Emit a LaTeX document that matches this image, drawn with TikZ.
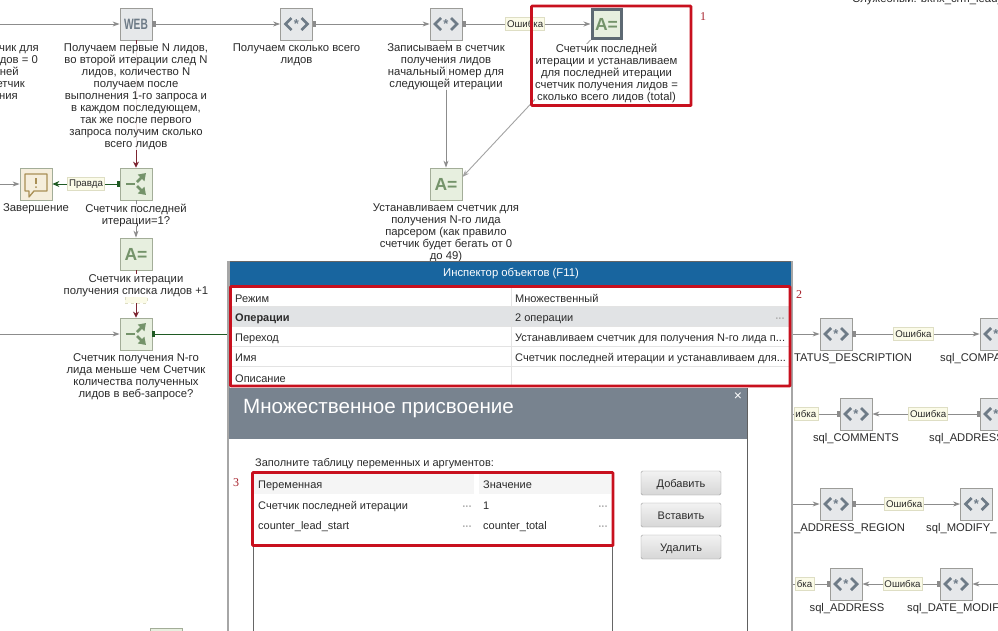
\documentclass[tikz,border=0pt]{standalone}
\usepackage{graphicx}
\usepackage{fontspec}
\setmainfont{Liberation Sans}
\newfontfamily\numfont{Liberation Serif}
\usetikzlibrary{arrows.meta,calc}
\definecolor{txt}{HTML}{2B2B2B}
\definecolor{gfill}{HTML}{E6E8EA}
\definecolor{gedge}{HTML}{9C9C98}
\definecolor{gicon}{HTML}{6E7B87}
\definecolor{afill}{HTML}{E7EFDF}
\definecolor{aedge}{HTML}{A3AD98}
\definecolor{aicon}{HTML}{74936A}
\definecolor{mfill}{HTML}{F5EEDC}
\definecolor{micon}{HTML}{A98F55}
\definecolor{flow}{HTML}{8C8C8C}
\definecolor{dkgreen}{HTML}{1F5A23}
\definecolor{dkred}{HTML}{7C2430}
\definecolor{hilite}{HTML}{C8101E}
\definecolor{numred}{HTML}{A8242E}
\definecolor{blueh}{HTML}{18659F}
\definecolor{dlg}{HTML}{78838F}
\definecolor{rowg}{HTML}{E1E3E5}
\definecolor{tagf}{HTML}{FBFBE8}
\definecolor{tage}{HTML}{DEDEC4}
\newcommand{\fs}{\fontsize{11.3}{12}\selectfont}
\newcommand{\fc}{\fontsize{11}{12}\selectfont}
\newcommand{\fq}{\fontsize{11.2}{12}\selectfont}
\newcommand{\starsym}{\raisebox{-5pt}{*}}
\tikzset{
  sq/.style={draw=gedge,line width=.8pt,minimum size=32pt,inner sep=0pt,fill=gfill},
  sqsql/.style={sq,text=gicon,font=\fontsize{13}{13}\selectfont\bfseries},
  sqa/.style={sq,fill=afill,draw=aedge,text=aicon,font=\fontsize{17.5}{18}\selectfont\bfseries},
  sqb/.style={sq,fill=afill,draw=aedge},
  sqm/.style={sq,fill=mfill,draw=aedge},
  lab/.style={anchor=north,align=center,inner sep=0pt,font=\fs,text=txt,fill=white,fill opacity=.86,text opacity=1},
  plain/.style={inner sep=0pt,font=\fs,text=txt,text height=8pt,text depth=2pt,yshift=-1pt},
  sqllab/.style={plain,font=\fq},
  tag/.style={draw=tage,fill=tagf,inner sep=1.5pt,font=\fontsize{9.7}{10}\selectfont,text=txt,minimum height=13pt},
  conn/.style={draw=flow,line width=.9pt,-{Stealth[length=7pt,width=5pt]}},
  srcconn/.style={draw=flow,line width=.9pt,{Square[length=3pt,width=6pt]}-{Stealth[length=7pt,width=5pt]}},
  srcplain/.style={draw=flow,line width=.9pt,{Square[length=3pt,width=6pt]}-},
  hl/.style={draw=hilite,line width=2.6pt,rounded corners=.6pt},
  num/.style={inner sep=0pt,text=numred,font=\numfont\fontsize{12}{12}\selectfont},
  cell/.style={inner sep=0pt,anchor=west,font=\fc,text=txt,text height=8pt,text depth=2pt,yshift=-1pt},
  btn/.style={draw=gray!75,rounded corners=1.5pt,minimum width=80pt,minimum height=24pt,inner sep=0pt,top color=gray!10,bottom color=gray!32,font=\fc,text=txt,text height=8pt,text depth=0pt},
  dots/.style={inner sep=0pt,text=gray!60,font=\fontsize{11}{11}\selectfont\bfseries}
}
\newcommand{\branchicon}[1]{%
  \draw[aicon,line width=2.6pt] ($(#1)+(-10,0)$) -- ($(#1)+(-1,0)$);
  \draw[aicon,line width=2.8pt,-{Triangle[length=7pt,width=9pt]}] ($(#1)+(1,-2)$) -- ($(#1)+(10,-11)$);
  \draw[aicon,line width=2.8pt,-{Triangle[length=7pt,width=9pt]}] ($(#1)+(1,2)$) -- ($(#1)+(10,11)$);
}
\newcommand{\sqlicon}[1]{%
  \draw[gicon,line width=2.8pt,line join=miter] ($(#1)+(-5,-6)$) -- ($(#1)+(-11,0)$) -- ($(#1)+(-5,6)$);
  \draw[gicon,line width=2.8pt,line join=miter] ($(#1)+(5,-6)$) -- ($(#1)+(11,0)$) -- ($(#1)+(5,6)$);
}
\begin{document}
\begin{tikzpicture}[x=1pt,y=-1pt]
\useasboundingbox (0,0) rectangle (998,630);
\clip (0,0) rectangle (998,630);
\fill[white] (0,0) rectangle (998,630);

% ---- shapes
\node[sq,text=gicon,font=\fontsize{15}{15}\selectfont\bfseries] (web) at (136,24) {\scalebox{.68}[1]{WEB}};
\node[sqsql] (get) at (296.5,24) {\starsym};
\node[sqsql] (write) at (446,24) {\starsym};
\node[sqa,draw=gicon!85!black,line width=3pt,minimum size=29pt] (sel) at (606.5,24) {A=};
\node[sqa] (asg) at (446,184) {A=};
\node[sqm] (msg) at (36,184) {};
\node[sqb] (b1) at (136,184) {};
\node[sqa] (inc) at (136,254) {A=};
\node[sqb] (b2) at (136,334) {};
\node[sqsql] (st) at (836,334) {\starsym};
\node[sqsql] (comp) at (996,334) {\starsym};
\node[sqsql] (com) at (856,414) {\starsym};
\node[sqsql] (adr) at (996,414) {\starsym};
\node[sqsql] (reg) at (836,504) {\starsym};
\node[sqsql] (mod) at (976.5,504) {\starsym};
\node[sqsql] (adr2) at (846,584) {\starsym};
\node[sqsql] (dm) at (956,584) {\starsym};
\node[draw=aedge,fill=afill,minimum width=32pt,minimum height=32pt,inner sep=0pt] (stub) at (166,644) {};
\foreach \n in {get,write,st,comp,com,adr,reg,mod,adr2,dm} {\sqlicon{\n}}

% ---- free ends
\coordinate (inweb) at (0,24);
\coordinate (inmsg) at (0,184);
\coordinate (inb2) at (0,334);
\coordinate (panelL) at (260,334);
\coordinate (inst) at (780,334);
\coordinate (comL) at (780,414);
\coordinate (inreg) at (780,504);
\coordinate (adr2L) at (780,584);
\coordinate (inadr) at (1010,584);

% ---- connectors
\draw[conn] (inweb) -- (web.west);
\draw[srcconn] (web.east) -- (get.west);
\draw[srcconn] (get.east) -- (write.west);
\draw[srcconn] (write.east) -- node[tag,pos=.49] (t1) {Ошибка} (sel.west);
\draw[conn] (write.south) -- (asg.north);
\draw[conn,draw=flow!80] (sel.south west) -- ($(asg.east)+(0,-7)$);
\draw[draw=dkred,line width=.9pt,-{Stealth[length=6pt,width=6pt]}] (web.south) -- (b1.north);
\draw[draw=dkgreen,line width=.9pt,{Square[length=3pt,width=6pt]}-{Stealth[length=7pt,width=6pt]}] (b1.west) -- node[tag,pos=.5] (t2) {Правда} (msg.east);
\draw[conn] (inmsg) -- (msg.west);
\draw[conn] (b1.south) -- (inc.north);
\draw[draw=dkred,line width=.9pt,-{Stealth[length=6pt,width=6pt]}] (inc.south) -- (b2.north);
\node[tag,dashed,font=\fontsize{8}{9}\selectfont,minimum height=14pt] (t3) at (136,296) {\raisebox{2pt}{Ложь}};
\draw[conn] (inb2) -- (b2.west);
\draw[draw=dkgreen,line width=1pt,{Square[length=3pt,width=6pt]}-] (b2.east) -- (panelL);
\draw[conn] (inst) -- (st.west);
\draw[srcconn] (st.east) -- node[tag,pos=.48] (t4) {Ошибка} (comp.west);
\draw[srcconn] (adr.west) -- node[tag,pos=.48] (t5) {Ошибка} (com.east);
\draw[srcplain] (com.west) -- (comL);
\draw[conn] (inreg) -- (reg.west);
\draw[srcconn] (reg.east) -- node[tag,pos=.48] (t6) {Ошибка} (mod.west);
\draw[conn] (inadr) -- (dm.east);
\draw[srcconn] (dm.west) -- node[tag,pos=.48] (t7) {Ошибка} (adr2.east);
\draw[srcplain] (adr2.west) -- (adr2L);
\node[tag,anchor=east] (t8) at (818,414) {ибка};
\node[tag,anchor=east] (t9) at (814,584) {бка};

% ---- icons
\branchicon{b1}
\branchicon{b2}
\draw[micon,line width=1.3pt,fill=mfill,line join=round]
  ($(msg)+(-11,-10)$) -- ($(msg)+(11,-10)$) -- ($(msg)+(11,7)$) -- ($(msg)+(-2,7)$) -- ($(msg)+(-7,13)$) -- ($(msg)+(-7,7)$) -- ($(msg)+(-11,7)$) -- cycle;
\draw[micon,line width=1.6pt] ($(msg)+(0,-6)$) -- ($(msg)+(0,0)$);
\fill[micon] ($(msg)+(0,3)$) circle (1pt);

% ---- labels
\node[lab] (lweb) at (136,43.5) {Получаем первые N лидов,\\во второй итерации след N\\лидов, количество N\\получаем после\\выполнения 1-го запроса и\\в каждом последующем,\\так же после первого\\запроса получим сколько\\всего лидов};
\node[lab] (lget) at (296.5,43.5) {Получаем сколько всего\\лидов};
\node[lab] (lwrite) at (446,43.5) {Записываем в счетчик\\получения лидов\\начальный номер для\\следующей итерации};
\node[lab,fill opacity=1] (lsel) at (606.5,43.5) {Счетчик последней\\итерации и устанавливаем\\для последней итерации\\счетчик получения лидов =\\сколько всего лидов (total)};
\node[lab] (lasg) at (446,203.5) {Устанавливаем счетчик для\\получения N-го лида\\парсером (как правило\\счетчик будет бегать от 0\\до 49)};
\node[lab] (lmsg) at (36,203.5) {Завершение};
\node[lab] (lb1) at (136,203.5) {Счетчик последней\\итерации=1?};
\node[lab,fill opacity=1,minimum height=23.5pt] (linc) at (136,273.5) {Счетчик итерации\\получения списка лидов +1};
\node[lab] (lb2) at (136,353.5) {Счетчик получения N-го\\лида меньше чем Счетчик\\количества полученных\\лидов в веб-запросе?};
\node[plain,anchor=east] (cut1) at (39,47) {чик для};
\node[plain,anchor=east] (cut2) at (38,59) {идов = 0};
\node[plain,anchor=east] (cut3) at (19,71) {дней};
\node[plain,anchor=east] (cut4) at (25,83) {етчик};
\node[plain,anchor=east] (cut5) at (18,95) {ения};
\node[plain,anchor=west] (svc) at (852,-2) {Служебный: bknx\_crm\_lead\_};
\node[sqllab,anchor=west] (lst) at (794,357) {TATUS\_DESCRIPTION};
\node[sqllab] (lcom) at (856,437) {sql\_COMMENTS};
\node[sqllab,anchor=west] (ladr) at (929,437) {sql\_ADDRESS};
\node[sqllab,anchor=west] (lcomp) at (940,357) {sql\_COMPA};
\node[sqllab,anchor=west] (lreg) at (794,527) {\_ADDRESS\_REGION};
\node[sqllab,anchor=west] (lmod) at (926,527) {sql\_MODIFY\_};
\node[sqllab] (ladr2) at (847,607) {sql\_ADDRESS};
\node[sqllab,anchor=west] (ldm) at (907,607) {sql\_DATE\_MODIF};

% ---- inspector panel
\fill[white] (229,261) rectangle (792,640);
\draw[gray!80!black,line width=.8pt] (228.5,261) -- (792.5,261);
\draw[gray!70,line width=2.4pt] (228.5,261) -- (228.5,640);
\draw[gray!70,line width=2.4pt] (792,261) -- (792,640);
\fill[blueh] (230,262) rectangle (791,286);
\node[inner sep=0pt,text=white,font=\fs] (ptitle) at (511,274) {Инспектор объектов (F11)};
\fill[rowg] (231,307) rectangle (789,326);
\foreach \yy in {306.5,326.5,346.5,366.5} \draw[gray!22,line width=.7pt] (231,\yy) -- (789,\yy);
\draw[gray!22,line width=.7pt] (511,287) -- (511,386);
\node[cell] (r1a) at (235,298) {Режим};
\node[cell,font=\fc\bfseries] (r2a) at (235,317) {Операции};
\node[cell] (r3a) at (235,337) {Переход};
\node[cell] (r4a) at (235,357) {Имя};
\node[cell] (r5a) at (235,378) {Описание};
\node[cell] (r1b) at (515,298) {Множественный};
\node[cell] (r2b) at (515,317) {2 операции};
\node[cell] (r3b) at (515,337) {Устанавливаем счетчик для получения N-го лида п...};
\node[cell] (r4b) at (515,357) {Счетчик последней итерации и устанавливаем для...};
\node[dots] (d0) at (780,319) {...};

% ---- dialog
\fill[white] (229,388) rectangle (747,640);
\fill[dlg] (229,388) rectangle (747,439);
\draw[gray!75!black,line width=.8pt] (747,388) -- (747,640);
\node[inner sep=0pt,anchor=west,text=white,font=\fontsize{20.6}{21}\selectfont] (dtitle) at (243,409) {Множественное присвоение};
\node[inner sep=0pt,text=white,font=\fontsize{14}{14}\selectfont] (dclose) at (738,397) {×};
\node[cell] (fill) at (255,462) {Заполните таблицу переменных и аргументов:};
\draw[gray!80!black,line width=.8pt] (253,472) rectangle (612,640);
\fill[gray!8] (254,474) rectangle (474,494);
\fill[gray!8] (479,474) rectangle (611,494);
\node[cell] (th1) at (258,484) {Переменная};
\node[cell] (th2) at (483,484) {Значение};
\node[cell] (c11) at (258,505) {Счетчик последней итерации};
\node[cell] (c12) at (483,505) {1};
\node[cell] (c21) at (258,525) {counter\_lead\_start};
\node[cell] (c22) at (483,525) {counter\_total};
\node[dots] (d1) at (467,507) {...};
\node[dots] (d2) at (603,507) {...};
\node[dots] (d3) at (467,527) {...};
\node[dots] (d4) at (603,527) {...};
\node[btn] (badd) at (681,483) {Добавить};
\node[btn] (bins) at (681,515) {Вставить};
\node[btn] (bdel) at (681,547) {Удалить};

% ---- highlights
\draw[hl] (531.5,6) rectangle (691,105.5);
\draw[hl] (230.5,286.5) rectangle (790,386);
\draw[hl] (252.5,472.5) rectangle (613,545.5);
\node[num] (n1) at (703,17) {1};
\node[num] (n2) at (799,295) {2};
\node[num] (n3) at (236,483) {3};
\end{tikzpicture}
\end{document}
